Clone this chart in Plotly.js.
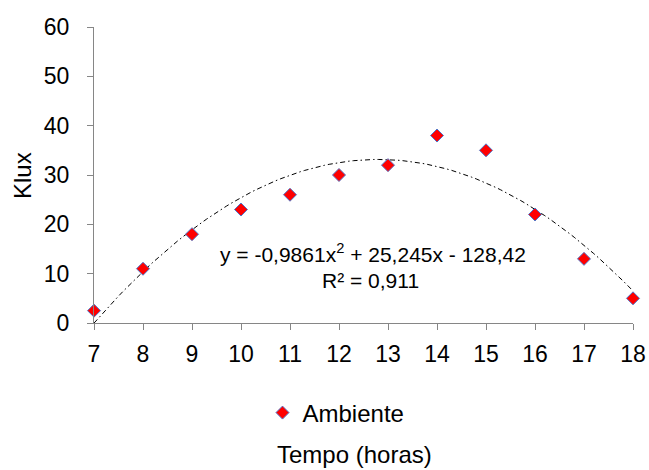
<!DOCTYPE html>
<html>
<head>
<meta charset="utf-8">
<script src="https://cdn.plot.ly/plotly-3.0.1.min.js"></script>
<style>html,body{margin:0;padding:0;background:#fff}#chart{width:649px;height:470px}</style>
</head>
<body>
<div id="chart"></div>
<script>
// Data
var hours = [7, 8, 9, 10, 11, 12, 13, 14, 15, 16, 17, 18];
var klux = [2.5, 11, 18, 23, 26, 30, 32, 38, 35, 22, 13, 5];
var seriesName = 'Ambiente';
// Polynomial trendline coefficients shown on the chart (a, b, c)
var trendCoef = [-0.9861, 25.245, -128.42];
var equationLine1 = 'y = -0,9861x<sup>2</sup> + 25,245x - 128,42';
var equationLine2 = 'R² = 0,911';
var xTicks = [7, 8, 9, 10, 11, 12, 13, 14, 15, 16, 17, 18];
var yTicks = [0, 10, 20, 30, 40, 50, 60];

var tx = [], ty = [];
for (var i = 0; i <= 110; i++) {
  var x = 7 + i * 0.1;
  tx.push(x);
  ty.push(trendCoef[0] * x * x + trendCoef[1] * x + trendCoef[2]);
}

var font = 'Liberation Sans, Arial, sans-serif';
var traces = [
  {x: tx, y: ty, mode: 'lines', showlegend: false, hoverinfo: 'skip',
   line: {color: '#000', width: 1, dash: '5px,3px,1.5px,3px'}, cliponaxis: false},
  {x: hours, y: klux, mode: 'markers', name: seriesName, cliponaxis: false,
   marker: {symbol: 'diamond', size: 10, color: '#ff0000', line: {color: '#4f75c8', width: 1}}}
];

var axisCommon = {showgrid: false, zeroline: false, showline: true, linecolor: '#868686', linewidth: 1,
  ticks: 'outside', ticklen: 6, tickcolor: '#868686', tickfont: {family: font, size: 23, color: '#000'}};

function px(xp) { return (xp - 94) / 539; }
function py(yp) { return (323 - yp) / 296; }

var layout = {
  width: 649, height: 470,
  margin: {l: 94, r: 16, t: 27, b: 147},
  paper_bgcolor: '#fff', plot_bgcolor: '#fff',
  font: {family: font, color: '#000'},
  xaxis: Object.assign({}, axisCommon, {range: [7, 18], tickvals: xTicks, ticktext: xTicks.map(String), ticklabelstandoff: 4}),
  yaxis: Object.assign({}, axisCommon, {range: [0, 60], tickvals: yTicks, ticktext: yTicks.map(String), ticklabelstandoff: 13}),
  showlegend: true,
  legend: {orientation: 'h', x: px(336), xanchor: 'center', y: py(413), yanchor: 'middle',
    font: {family: font, size: 24, color: '#000'}, itemwidth: 30},
  annotations: [
    {text: equationLine1, xref: 'paper', yref: 'paper', x: px(373), y: py(253),
     xanchor: 'center', yanchor: 'middle', showarrow: false,
     font: {family: font, size: 21, color: '#000'}},
    {text: equationLine2, xref: 'paper', yref: 'paper', x: px(370), y: py(280),
     xanchor: 'center', yanchor: 'middle', showarrow: false,
     font: {family: font, size: 21, color: '#000'}},
    {text: 'Tempo (horas)', xref: 'paper', yref: 'paper', x: px(354), y: py(454),
     xanchor: 'center', yanchor: 'middle', showarrow: false, font: {family: font, size: 24, color: '#000'}},
    {text: 'Klux', xref: 'paper', yref: 'paper', x: px(22), y: py(176),
     xanchor: 'center', yanchor: 'middle', textangle: -90, showarrow: false, font: {family: font, size: 24, color: '#000'}}
  ]
};

Plotly.newPlot('chart', traces, layout, {displayModeBar: false, staticPlot: true});
</script>
</body>
</html>
